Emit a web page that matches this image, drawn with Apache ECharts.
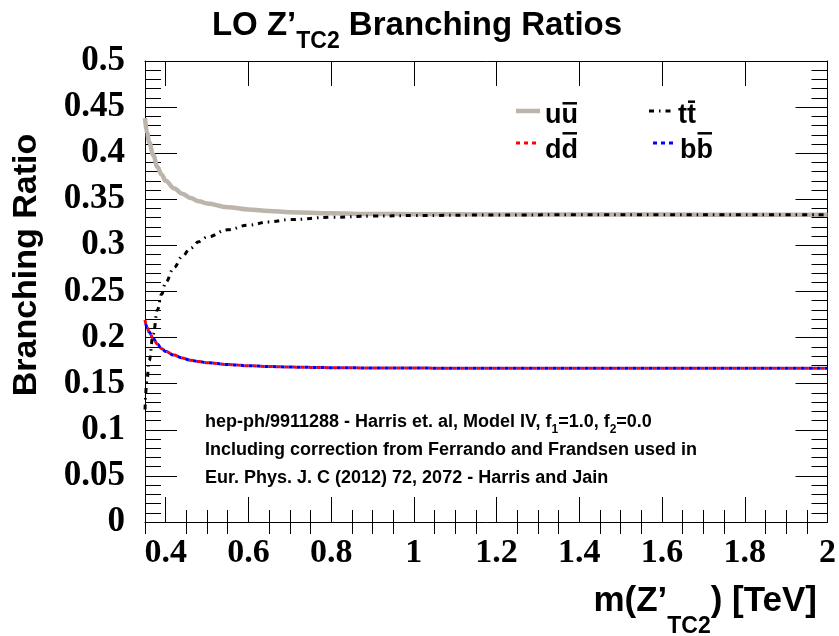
<!DOCTYPE html>
<html>
<head>
<meta charset="utf-8">
<script src="https://cdn.jsdelivr.net/npm/echarts@6/dist/echarts.min.js"></script>
<style>
  html, body { margin: 0; padding: 0; background: #fff; }
  #chart { width: 839px; height: 636px; }
</style>
</head>
<body>
<div id="chart"></div>
<script>
// Z'_TC2 mass points (TeV) and leading-order branching ratios per channel
const massTeV = [0.35, 0.355, 0.36, 0.37, 0.38, 0.39, 0.40, 0.42, 0.44, 0.46, 0.48, 0.50,
                 0.55, 0.60, 0.65, 0.70, 0.80, 0.90, 1.0, 1.2, 1.4, 1.6, 1.8, 2.0];
const brUU = [0.438, 0.422, 0.412, 0.398, 0.385, 0.377, 0.370, 0.362, 0.356, 0.3515, 0.348, 0.3455,
              0.3415, 0.339, 0.3373, 0.336, 0.3348, 0.3341, 0.3338, 0.3335, 0.3334, 0.3334, 0.3333, 0.3333];
const brTT = [0.122, 0.155, 0.175, 0.204, 0.230, 0.247, 0.260, 0.276, 0.288, 0.297, 0.304, 0.309,
              0.317, 0.322, 0.3255, 0.328, 0.3305, 0.3318, 0.3324, 0.3330, 0.3332, 0.3333, 0.3333, 0.3333];
const brDD = [0.219, 0.211, 0.206, 0.199, 0.193, 0.188, 0.185, 0.181, 0.178, 0.1755, 0.174, 0.1728,
              0.1708, 0.1695, 0.1687, 0.168, 0.1674, 0.1671, 0.1669, 0.1668, 0.1667, 0.1667, 0.1667, 0.1667];
const brBB = [0.219, 0.211, 0.206, 0.199, 0.193, 0.188, 0.185, 0.181, 0.178, 0.1755, 0.174, 0.1728,
              0.1708, 0.1695, 0.1687, 0.168, 0.1674, 0.1671, 0.1669, 0.1668, 0.1667, 0.1667, 0.1667, 0.1667];

// axis ranges and tick positions
const xMin = 0.35, xMax = 2.0;
const xMajorTicks = [0.4, 0.6, 0.8, 1.0, 1.2, 1.4, 1.6, 1.8, 2.0];
const xMinorTicks = [0.35, 0.45, 0.5, 0.55, 0.65, 0.7, 0.75, 0.85, 0.9, 0.95, 1.05, 1.1, 1.15,
                     1.25, 1.3, 1.35, 1.45, 1.5, 1.55, 1.65, 1.7, 1.75, 1.85, 1.9, 1.95];
const yMin = 0, yMax = 0.5, yStep = 0.05;

// legend entries: quark letter (shown as q q-bar)
const legendQuarks = ['u', 't', 'd', 'b'];

const SANS = '"Liberation Sans", Arial, Helvetica, sans-serif';
const SERIF = '"Liberation Serif", "Times New Roman", Times, serif';

const measureCtx = document.createElement('canvas').getContext('2d');
function textWidth(text, size, family) {
  measureCtx.font = 'bold ' + size + 'px ' + family;
  return measureCtx.measureText(text).width;
}
function textEl(text, x, y, size, family, align, extra) {
  return Object.assign({
    type: 'text', x: x, y: y, silent: true,
    style: {
      text: text, fill: '#000',
      font: 'bold ' + size + 'px ' + family,
      align: align, textAlign: align,
      verticalAlign: 'middle', textVerticalAlign: 'middle'
    }
  }, extra || {});
}
// lay out a run of text pieces [text, size, dy] side by side
function textRun(pieces, x, y, anchor, family) {
  const widths = pieces.map(p => textWidth(p[0], p[1], family));
  const total = widths.reduce((a, b) => a + b, 0);
  let cx = anchor === 'center' ? x - total / 2 : anchor === 'right' ? x - total : x;
  return pieces.map((p, i) => {
    const el = textEl(p[0], cx, y + (p[2] || 0), p[1], family, 'left');
    cx += widths[i];
    return el;
  });
}

const seriesStyles = [
  { name: 'uu', data: brUU, color: '#bdb5ac', width: 4.5, type: 'solid', offset: 0 },
  { name: 'tt', data: brTT, color: '#000000', width: 3, type: [5, 5, 1.5, 5], offset: 0 },
  { name: 'dd', data: brDD, color: '#ff0000', width: 3, type: [4, 4], offset: 0 },
  { name: 'bb', data: brBB, color: '#0000ff', width: 3, type: [4, 4], offset: 4 }
];

const series = seriesStyles.map(s => ({
  type: 'line',
  name: s.name,
  xAxisIndex: 0, yAxisIndex: 0,
  data: massTeV.map((m, i) => [m, s.data[i]]),
  showSymbol: false,
  smooth: 0.4,
  smoothMonotone: 'x',
  clip: true,
  lineStyle: { color: s.color, width: s.width, type: s.type, dashOffset: s.offset, cap: 'butt' },
  emphasis: { disabled: true },
  z: 3
}));

// legend block (two columns)
const legendLayout = {
  u: { lx: 516, ly: 111, tx: 545, ty: 115.6, over: 103.3 },
  t: { lx: 649, ly: 111, tx: 678, ty: 115.6, over: 101.7 },
  d: { lx: 516, ly: 143, tx: 545, ty: 150.6, over: 133.3 },
  b: { lx: 649, ly: 143, tx: 680, ty: 150.6, over: 133.3 }
};
const legendSize = 27;
const legendGraphics = [];
legendQuarks.forEach((q) => {
  const L = legendLayout[q];
  const s = seriesStyles[['u', 't', 'd', 'b'].indexOf(q)];
  legendGraphics.push({
    type: 'line', silent: true,
    shape: { x1: L.lx, y1: L.ly, x2: L.lx + 24, y2: L.ly },
    style: { stroke: s.color, lineWidth: s.width, lineDash: s.type === 'solid' ? null : s.type, lineDashOffset: s.offset }
  });
  legendGraphics.push(textEl(q + q, L.tx, L.ty, legendSize, SANS, 'left'));
  const w1 = textWidth(q, legendSize, SANS);
  const w2 = textWidth(q + q, legendSize, SANS);
  legendGraphics.push({
    type: 'line', silent: true,
    shape: { x1: L.tx + w1 + 1, y1: L.over, x2: L.tx + w2 - 1, y2: L.over },
    style: { stroke: '#000', lineWidth: 2.5 }
  });
});

const graphics = [].concat(
  textRun([['LO Z\u2019', 33], ['TC2', 23, 16], [' Branching Ratios', 33]], 417, 25.5, 'center', SANS),
  textRun([['m(Z\u2019', 35], ['TC2', 23, 25.5], [') [TeV]', 35]], 817, 601, 'right', SANS),
  [textEl('Branching Ratio', 27, 265, 34, SANS, 'center', { rotation: Math.PI / 2 })],
  textRun([['hep-ph/9911288 - Harris et. al, Model IV, f', 18], ['1', 12, 8], ['=1.0, f', 18], ['2', 12, 8], ['=0.0', 18]], 205, 422, 'left', SANS),
  [textEl('Including correction from Ferrando and Frandsen used in', 205, 450, 18, SANS, 'left')],
  [textEl('Eur. Phys. J. C (2012) 72, 2072 - Harris and Jain', 205, 478, 18, SANS, 'left')],
  legendGraphics
);

const tickFmt = v => String(+(+v).toFixed(2));
const blackLine = { show: true, onZero: false, lineStyle: { color: '#000', width: 1 } };
const tickLine = { color: '#000', width: 1 };
const xLabel = { show: true, customValues: xMajorTicks, margin: 14, color: '#000',
                 fontFamily: SERIF, fontWeight: 'bold', fontSize: 34, formatter: tickFmt };

function xAxisDef(pos, ticks, len, withLine, withLabel) {
  return {
    type: 'value', position: pos, min: xMin, max: xMax, gridIndex: 0,
    axisLine: withLine ? blackLine : { show: false },
    splitLine: { show: false },
    axisTick: { show: true, inside: true, length: len, customValues: ticks, lineStyle: tickLine },
    minorTick: { show: false },
    axisLabel: withLabel ? xLabel : { show: false }
  };
}
function yAxisDef(pos, withLabel) {
  return {
    type: 'value', position: pos, min: yMin, max: yMax, interval: yStep, gridIndex: 0,
    axisLine: blackLine,
    splitLine: { show: false },
    axisTick: { show: true, inside: true, length: 32, lineStyle: tickLine },
    minorTick: { show: true, splitNumber: 5, length: 16, lineStyle: tickLine },
    axisLabel: withLabel ? { show: true, margin: 20, color: '#000', fontFamily: SERIF,
                             fontWeight: 'bold', fontSize: 35, formatter: tickFmt } : { show: false }
  };
}

const chart = echarts.init(document.getElementById('chart'), null, { renderer: 'canvas' });
chart.setOption({
  animation: false,
  backgroundColor: '#fff',
  grid: { left: 145, right: 9, top: 61, bottom: 114, containLabel: false },
  xAxis: [
    xAxisDef('bottom', xMajorTicks, 25, true, true),
    xAxisDef('bottom', xMinorTicks, 12, false, false),
    xAxisDef('top', xMajorTicks, 25, true, false),
    xAxisDef('top', xMinorTicks, 12, false, false)
  ],
  yAxis: [yAxisDef('left', true), yAxisDef('right', false)],
  series: series,
  graphic: { elements: graphics }
});
</script>
</body>
</html>
